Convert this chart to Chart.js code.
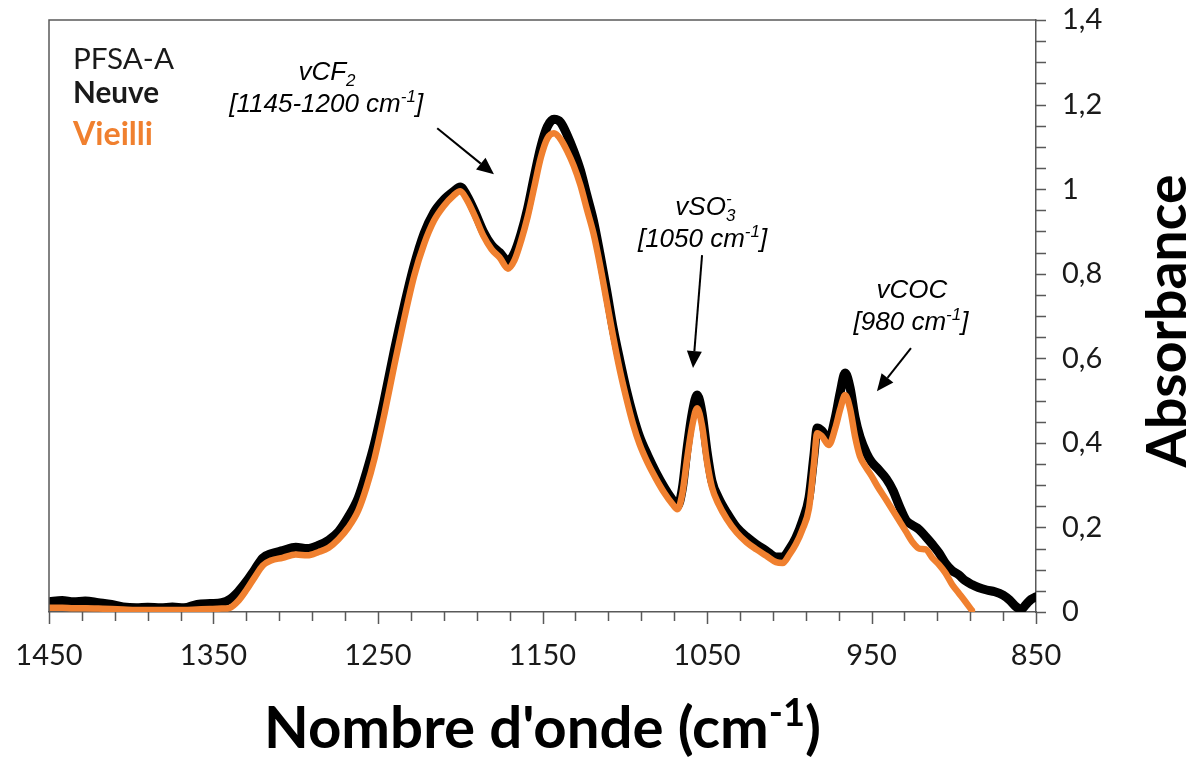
<!DOCTYPE html>
<html>
<head>
<meta charset="utf-8">
<script src="https://cdn.jsdelivr.net/npm/chart.js@4.4.1/dist/chart.umd.min.js"></script>
<style>
html,body{margin:0;padding:0;background:#fff;}
#wrap{width:1190px;height:759px;position:relative;}
</style>
</head>
<body>
<div id="wrap"><canvas id="c" width="1190" height="759"></canvas></div>
<script>
// ---------- DATA ----------
const wavenumbers = [1450,1442,1435,1428,1420,1412,1405,1397,1390,1382,1375,1368,1360,1352,1345,1340,1335,1330,1325,1320,1315,1308,1300,1293,1286,1280,1274,1268,1262,1257,1252,1246,1240,1234,1228,1222,1216,1210,1204,1200,1196,1191,1186,1181,1176,1171,1167,1163,1159,1155,1151,1147,1143,1139,1135,1131,1127,1123,1119,1115,1111,1107,1103,1099,1095,1091,1086,1081,1076,1071,1068,1065,1062,1059,1056,1053,1050,1047,1043,1038,1032,1026,1020,1014,1008,1004,1000,996,992,988,985,983,980,976,972,969,966,963,960,957,953,950,946,941,937,933,929,925,921,917,913,909,905,901,897,893,889,885,880,875,870,866,862,859,856,853,850];
const neuve = [0.024,0.027,0.024,0.026,0.022,0.018,0.012,0.010,0.011,0.010,0.012,0.010,0.018,0.020,0.022,0.030,0.048,0.072,0.100,0.128,0.138,0.145,0.153,0.150,0.158,0.170,0.190,0.225,0.270,0.330,0.400,0.505,0.620,0.725,0.820,0.895,0.945,0.975,0.995,1.005,0.985,0.945,0.900,0.868,0.850,0.830,0.850,0.895,0.955,1.030,1.100,1.148,1.165,1.158,1.128,1.090,1.045,0.985,0.925,0.845,0.760,0.670,0.595,0.525,0.465,0.415,0.370,0.330,0.295,0.265,0.250,0.292,0.390,0.470,0.513,0.470,0.380,0.310,0.270,0.235,0.200,0.178,0.160,0.145,0.130,0.130,0.148,0.175,0.215,0.270,0.370,0.435,0.428,0.407,0.460,0.520,0.565,0.530,0.460,0.414,0.375,0.355,0.338,0.315,0.288,0.250,0.217,0.205,0.195,0.178,0.160,0.140,0.115,0.098,0.088,0.074,0.065,0.058,0.052,0.048,0.040,0.028,0.012,0.006,0.018,0.030,0.036];
const vieilli = [0.010,0.010,0.009,0.009,0.008,0.007,0.006,0.005,0.005,0.005,0.005,0.005,0.006,0.007,0.008,0.010,0.026,0.052,0.082,0.110,0.122,0.128,0.136,0.134,0.142,0.152,0.172,0.200,0.240,0.295,0.365,0.470,0.585,0.695,0.795,0.870,0.925,0.960,0.985,0.995,0.975,0.935,0.890,0.858,0.838,0.812,0.832,0.878,0.935,1.005,1.075,1.120,1.132,1.118,1.090,1.055,1.010,0.952,0.895,0.820,0.735,0.650,0.572,0.505,0.445,0.397,0.352,0.315,0.282,0.255,0.243,0.280,0.365,0.440,0.482,0.440,0.355,0.295,0.255,0.220,0.188,0.165,0.148,0.133,0.118,0.116,0.135,0.160,0.195,0.245,0.350,0.423,0.415,0.395,0.435,0.480,0.513,0.480,0.415,0.368,0.340,0.322,0.295,0.265,0.240,0.215,0.190,0.165,0.150,0.148,0.128,0.112,0.092,0.065,0.045,0.025,0.004,null,null,null,null,null,null,null,null,null,null];
const xTicks = [1450,1350,1250,1150,1050,950,850];
const yTicks = [0,0.2,0.4,0.6,0.8,1,1.2,1.4];
const seriesNames = ['Neuve','Vieilli'];

// ---------- STYLE ----------
const BLACK = '#000000';
const ORANGE = '#F0802F';
const AXIS = '#595959';
const TXT = '#1a1a1a';

function toPoints(vals){ return wavenumbers.map((w,i)=>({x:w,y:vals[i]})); }

function richWidth(ctx, segs, size, family, style){
  let w=0;
  const small = Math.round(size*0.65);
  for(const s of segs){
    if(s.k==='n'){ ctx.font=`${style} ${size}px ${family}`; w+=ctx.measureText(s.t).width; }
    else if(s.k==='subsup'){ ctx.font=`${style} ${small}px ${family}`; w+=Math.max(ctx.measureText(s.t).width, ctx.measureText(s.t2).width); }
    else { ctx.font=`${style} ${small}px ${family}`; w+=ctx.measureText(s.t).width; }
  }
  return w;
}
function drawRich(ctx, segs, x, y, size, family, style, align, color){
  const small = Math.round(size*0.65);
  const w = richWidth(ctx, segs, size, family, style);
  let cx = align==='center' ? x - w/2 : x;
  ctx.fillStyle = color; ctx.textBaseline='alphabetic'; ctx.textAlign='left';
  for(const s of segs){
    if(s.k==='n'){ ctx.font=`${style} ${size}px ${family}`; ctx.fillText(s.t,cx,y); cx+=ctx.measureText(s.t).width; }
    else if(s.k==='sub'){ ctx.font=`${style} ${small}px ${family}`; ctx.fillText(s.t,cx,y+size*0.22); cx+=ctx.measureText(s.t).width; }
    else if(s.k==='sup'){ ctx.font=`${style} ${small}px ${family}`; ctx.fillText(s.t,cx,y-size*0.38); cx+=ctx.measureText(s.t).width; }
    else { ctx.font=`${style} ${small}px ${family}`; ctx.fillText(s.t,cx,y+size*0.22); ctx.fillText(s.t2,cx,y-size*0.42); cx+=Math.max(ctx.measureText(s.t).width, ctx.measureText(s.t2).width); }
  }
}
function fitSize(ctx, segs, family, style, target){
  return 100*target/richWidth(ctx, segs, 100, family, style);
}
function arrow(ctx, x1,y1,x2,y2){
  const ang = Math.atan2(y2-y1,x2-x1), L=17, W=7.5;
  const bx = x2 - L*Math.cos(ang), by = y2 - L*Math.sin(ang);
  ctx.strokeStyle='#000'; ctx.lineWidth=2;
  ctx.beginPath(); ctx.moveTo(x1,y1); ctx.lineTo(bx,by); ctx.stroke();
  ctx.fillStyle='#000';
  ctx.beginPath(); ctx.moveTo(x2,y2);
  ctx.lineTo(bx + W*Math.sin(ang), by - W*Math.cos(ang));
  ctx.lineTo(bx - W*Math.sin(ang), by + W*Math.cos(ang));
  ctx.closePath(); ctx.fill();
}

// annotations in data units [wavenumber, absorbance]
const annotations = [
  {segs:[{k:'n',t:'vCF'},{k:'sub',t:'2'}], at:[1281,1.258]},
  {segs:[{k:'n',t:'[1145-1200 cm'},{k:'sup',t:'-1'},{k:'n',t:']'}], at:[1281.5,1.182]},
  {segs:[{k:'n',t:'vSO'},{k:'subsup',t:'3',t2:'-'}], at:[1051,0.939]},
  {segs:[{k:'n',t:'[1050 cm'},{k:'sup',t:'-1'},{k:'n',t:']'}], at:[1052.7,0.863]},
  {segs:[{k:'n',t:'vCOC'}], at:[925.4,0.742]},
  {segs:[{k:'n',t:'[980 cm'},{k:'sup',t:'-1'},{k:'n',t:']'}], at:[926,0.667]}
];
const arrows = [
  {from:[1214,1.144], to:[1179.5,1.035]},
  {from:[1053,0.844], to:[1058.5,0.577]},
  {from:[926,0.624], to:[946.7,0.522]}
];

const decor = {
  id:'decor',
  afterDraw(chart){
    const {ctx, chartArea:a, scales:{x,y}} = chart;
    ctx.save();
    // frame top & left
    ctx.strokeStyle=AXIS; ctx.lineWidth=1.5;
    ctx.beginPath(); ctx.moveTo(a.left,a.bottom); ctx.lineTo(a.left,a.top); ctx.lineTo(a.right,a.top); ctx.stroke();
    // x ticks (minor every 20, major every 100)
    ctx.beginPath();
    for(let v=850; v<=1450; v+=20){
      const px = Math.round(x.getPixelForValue(v))+0.5;
      const major = (v-850)%100===0;
      ctx.moveTo(px,a.bottom); ctx.lineTo(px,a.bottom+(major?12:9));
    }
    // y ticks every 0.05
    for(let i=0;i<=28;i++){
      const py = Math.round(y.getPixelForValue(i*0.05))+0.5;
      ctx.moveTo(a.right,py); ctx.lineTo(a.right+10,py);
    }
    ctx.stroke();

    // legend text
    const lx = a.left+24;
    let s = fitSize(ctx,[{k:'n',t:'PFSA-A'}],'Lato','normal',101);
    drawRich(ctx,[{k:'n',t:'PFSA-A'}],lx,a.top+49,s,'Lato','normal','left',TXT);
    s = fitSize(ctx,[{k:'n',t:seriesNames[0]}],'Lato','bold',86);
    drawRich(ctx,[{k:'n',t:seriesNames[0]}],lx,a.top+83,s,'Lato','bold','left',TXT);
    s = fitSize(ctx,[{k:'n',t:seriesNames[1]}],'Lato','bold',80);
    drawRich(ctx,[{k:'n',t:seriesNames[1]}],lx,a.top+125,s,'Lato','bold','left',ORANGE);

    // annotations
    for(const an of annotations){
      drawRich(ctx, an.segs, x.getPixelForValue(an.at[0]), y.getPixelForValue(an.at[1]), 26, '"Liberation Sans"', 'italic', 'center', '#000');
    }
    for(const ar of arrows){
      arrow(ctx, x.getPixelForValue(ar.from[0]), y.getPixelForValue(ar.from[1]), x.getPixelForValue(ar.to[0]), y.getPixelForValue(ar.to[1]));
    }

    // x axis title
    const xt = [{k:'n',t:"Nombre d'onde (cm"},{k:'sup',t:'-1'},{k:'n',t:')'}];
    s = fitSize(ctx,xt,'Lato','bold',557);
    drawRich(ctx,xt,(a.left+a.right)/2,748,s,'Lato','bold','center','#000');
    // y axis title (rotated, reading upward)
    const yt = [{k:'n',t:'Absorbance'}];
    s = fitSize(ctx,yt,'Lato','bold',293);
    ctx.translate(1186,(a.top+a.bottom)/2+5);
    ctx.rotate(-Math.PI/2);
    drawRich(ctx,yt,0,0,s,'Lato','bold','center','#000');
    ctx.restore();
  }
};

function build(){
  new Chart(document.getElementById('c'),{
    type:'line',
    data:{
      datasets:[
        {label:seriesNames[0], data:toPoints(neuve), borderColor:BLACK, borderWidth:9, order:2,
         pointRadius:0, cubicInterpolationMode:'monotone', borderJoinStyle:'round', borderCapStyle:'round', spanGaps:false},
        {label:seriesNames[1], data:toPoints(vieilli), borderColor:ORANGE, borderWidth:6.5, order:1,
         pointRadius:0, cubicInterpolationMode:'monotone', borderJoinStyle:'round', borderCapStyle:'round', spanGaps:false}
      ]
    },
    options:{
      responsive:false, animation:false, devicePixelRatio:1,
      layout:{padding:{left:49,top:20,right:0,bottom:0}},
      plugins:{legend:{display:false}, tooltip:{enabled:false}},
      scales:{
        x:{type:'linear', reverse:true, min:850, max:1450, position:'bottom',
           afterBuildTicks(scale){ scale.ticks = xTicks.map(v=>({value:v})); },
           afterFit(scale){ scale.height = 147; scale.paddingLeft = 0; scale.paddingRight = 0; },
           grid:{display:false, drawTicks:false},
           border:{display:true, color:AXIS, width:1.5},
           ticks:{font:{family:'Lato', size:29}, color:TXT, padding:26, maxRotation:0, autoSkip:false,
                  callback:(v)=>String(v)}},
        y:{type:'linear', min:0, max:1.4, position:'right',
           afterBuildTicks(scale){ scale.ticks = yTicks.map(v=>({value:v})); },
           afterFit(scale){ scale.width = 154; scale.paddingTop = 0; scale.paddingBottom = 0; },
           grid:{display:false, drawTicks:false},
           border:{display:true, color:AXIS, width:1.5},
           ticks:{font:{family:'Lato', size:29}, color:TXT, padding:26,
                  callback:(v)=>String(Math.round(v*10)/10).replace('.',',')}}
      }
    },
    plugins:[decor]
  });
}
if(document.fonts && document.fonts.load){
  Promise.all([document.fonts.load('29px Lato'),document.fonts.load('bold 29px Lato'),document.fonts.load('italic 26px "Liberation Sans"')]).then(build,build);
} else build();
</script>
</body>
</html>
